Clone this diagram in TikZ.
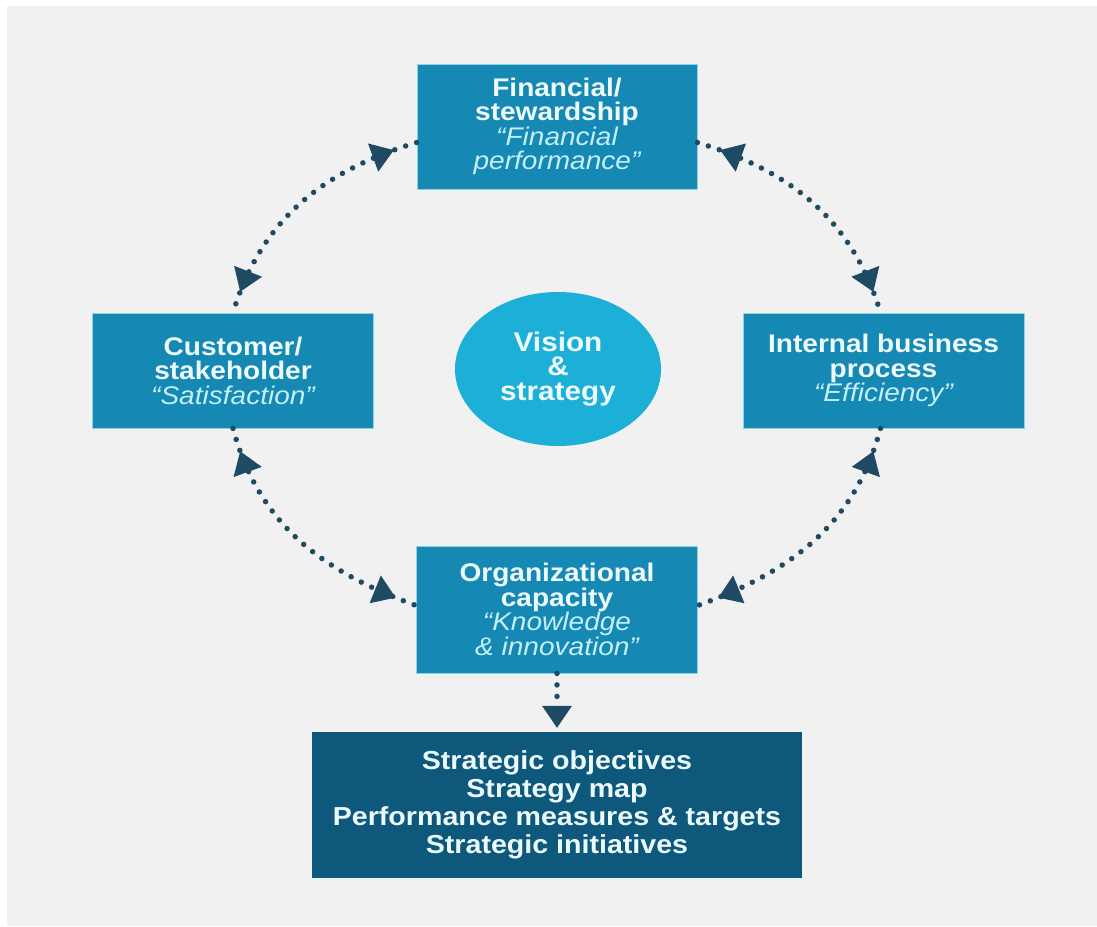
\documentclass[tikz,border=0pt]{standalone}
\usepackage{fontspec}
\newfontfamily\bfont[FakeStretch=1.1]{Liberation Sans}
\usetikzlibrary{arrows.meta,decorations.markings,shapes.geometric}
\definecolor{bgc}{RGB}{241,241,241}
\definecolor{boxc}{RGB}{22,136,180}
\definecolor{edgec}{RGB}{140,210,232}
\definecolor{ellc}{RGB}{28,175,215}
\definecolor{darkc}{RGB}{14,88,124}
\definecolor{arrowc}{RGB}{30,74,100}
\definecolor{txtc}{RGB}{236,250,252}
\definecolor{itc}{RGB}{195,239,248}
\newcommand{\itq}{\mdseries\itshape\color{itc}}
\tikzset{
  tealbox/.style={rectangle, fill=boxc, draw=edgec, line width=0.8pt, inner sep=0pt,
    align=center, text=txtc, font=\bfont\fontsize{25.5}{24.5}\selectfont\bfseries},
  visell/.style={ellipse, fill=ellc, inner sep=0pt, minimum width=206pt, minimum height=154pt,
    align=center, text=txtc, font=\bfont\fontsize{27}{24.5}\selectfont\bfseries},
  darkbox/.style={rectangle, fill=darkc, inner sep=0pt, minimum width=490pt, minimum height=146pt,
    align=center, text=txtc, font=\bfont\fontsize{26}{28}\selectfont\bfseries},
  dotline/.style={draw=arrowc, color=arrowc, line width=5.5pt, line cap=round, dash pattern=on 0pt off 11.5pt},
  tiptri/.tip={Triangle[width=30pt,length=22pt,line width=0pt]},
  twoheads/.style={postaction={decorate}, decoration={markings,
    mark=at position 24pt with {\arrowreversed[arrowc]{tiptri}},
    mark=at position -22pt with {\arrow[arrowc]{tiptri}}}}
}
\begin{document}
\begin{tikzpicture}[x=1pt,y=1pt]
\useasboundingbox (0,0) rectangle (1097,-926);
\fill[white] (0,0) rectangle (1097,-926);
\fill[bgc] (7,-6) rectangle (1097,-926);

\node[tealbox, minimum width=280pt, minimum height=125pt] (fin) at (557,-126.5)
  {Financial/\\stewardship\\{\itq “Financial}\\{\itq performance”}};
\node[tealbox, minimum width=281pt, minimum height=115pt] (cust) at (233,-370.5)
  {Customer/\\stakeholder\\{\itq “Satisfaction”}};
\node[tealbox, minimum width=281pt, minimum height=115pt] (intl) at (883.5,-370.5)
  {Internal business\\process\\{\itq “Efficiency”}};
\node[tealbox, minimum width=281pt, minimum height=127pt] (org) at (557,-609.5)
  {Organizational\\capacity\\{\itq “Knowledge}\\{\itq \& innovation”}};
\node[visell] (vis) at (558,-369) {Vision\\\&\\strategy};
\node[darkbox] (strat) at (557,-805)
  {Strategic objectives\\Strategy map\\Performance measures \& targets\\Strategic initiatives};

\draw[dotline, twoheads] ([yshift=-16pt]fin.west) to[out=197,in=73] (cust.north);
\draw[dotline, twoheads] ([yshift=-16pt]fin.east) to[out=-17,in=107] ([xshift=-3pt]intl.north);
\draw[dotline, twoheads] (cust.south) to[out=-75,in=160] ([yshift=4pt]org.west);
\draw[dotline, twoheads] ([xshift=-3pt]intl.south) to[out=-105,in=20] ([yshift=4pt]org.east);
\draw[dotline, -tiptri, shorten >=4pt] (org.south) -- (strat.north);
\end{tikzpicture}
\end{document}
